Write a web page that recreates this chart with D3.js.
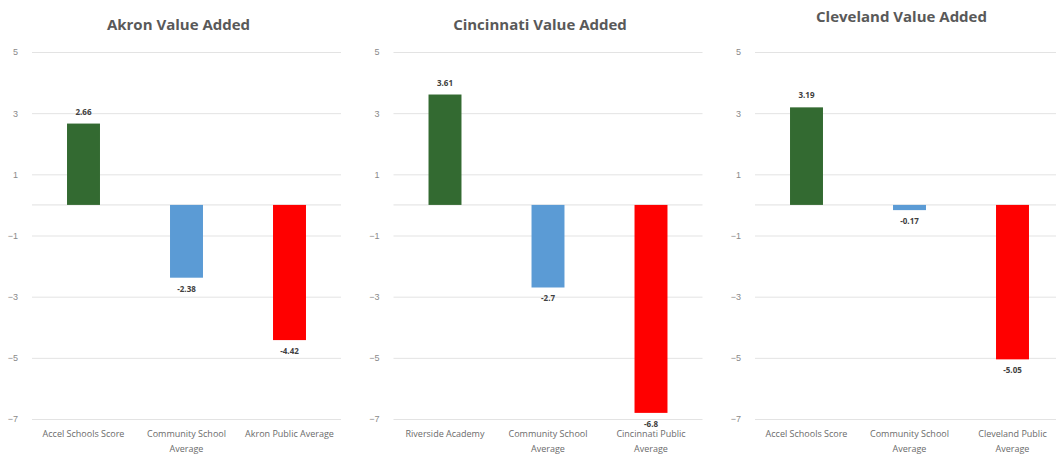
<!DOCTYPE html>
<html lang="en">
  <head>
    <meta charset="utf-8">
    <title>Value Added</title>
    <style>
      body { margin: 0; background: #fff; font-family: "Open Sans", sans-serif; }
      .grid line { stroke: #e3e3e3; }
      .grid text { fill: #8a8a8a; font-size: 9px; }
      .title { fill: #595959; font-size: 15px; font-weight: 700; }
      .cat { fill: #6b6b6b; font-size: 9px; }
      .val { fill: #404040; font-size: 8px; font-weight: 700; }
    </style>
  </head>
  <body>
    <svg id="chart"></svg>
    <script src="https://d3js.org/d3.v7.min.js"></script>
    <script>
      // chart data
      const titles = ["Akron Value Added", "Cincinnati Value Added", "Cleveland Value Added"];
      const akronCategories = ["Accel Schools Score", "Community School Average", "Akron Public Average"];
      const cincinnatiCategories = ["Riverside Academy", "Community School Average", "Cincinnati Public Average"];
      const clevelandCategories = ["Accel Schools Score", "Community School Average", "Cleveland Public Average"];
      const akronValues = [2.66, -2.38, -4.42];
      const cincinnatiValues = [3.61, -2.7, -6.8];
      const clevelandValues = [3.19, -0.17, -5.05];
      const yTicks = [5, 3, 1, -1, -3, -5, -7];
      const barColors = ["#336a31", "#5b9bd5", "#ff0000"];

      const panels = [
        {title: titles[0], cats: akronCategories, vals: akronValues},
        {title: titles[1], cats: cincinnatiCategories, vals: cincinnatiValues},
        {title: titles[2], cats: clevelandCategories, vals: clevelandValues}
      ];

      const W = 1056, H = 454;
      const svg = d3.select("#chart").attr("width", W).attr("height", H);

      const y = d3.scaleLinear().domain([-7, 5]).range([419, 52]);
      const titleY = [30, 30, 22];

      panels.forEach(function(p, i) {
        const left = 32 + i * 361.5;
        const plotW = 309;
        const x = d3.scaleBand().domain(p.cats).range([0, plotW]).paddingInner(0.68).paddingOuter(0.34);
        const g = svg.append("g").attr("transform", "translate(" + left + ",0)");

        g.append("text").attr("class", "title")
          .attr("x", plotW / 2 - 8).attr("y", titleY[i])
          .attr("text-anchor", "middle").text(p.title);

        const grid = g.append("g").attr("class", "grid")
          .call(d3.axisLeft(y).tickValues(yTicks).tickSize(-plotW).tickPadding(14));
        grid.select(".domain").remove();

        g.append("line")
          .attr("x1", 0).attr("x2", plotW)
          .attr("y1", y(0)).attr("y2", y(0))
          .attr("stroke", "#e0e0e0");

        g.selectAll("rect.bar").data(p.vals).enter().append("rect")
          .attr("class", "bar")
          .attr("x", (d, j) => x(p.cats[j]))
          .attr("width", x.bandwidth())
          .attr("y", d => y(Math.max(0, d)))
          .attr("height", d => Math.abs(y(d) - y(0)))
          .attr("fill", (d, j) => barColors[j]);

        g.selectAll("text.val").data(p.vals).enter().append("text")
          .attr("class", "val")
          .attr("x", (d, j) => x(p.cats[j]) + x.bandwidth() / 2)
          .attr("y", d => d >= 0 ? y(d) - 9 : y(d) + 14)
          .attr("text-anchor", "middle")
          .text(d => String(d));

        // category labels, wrapped to the band
        const cat = g.selectAll("text.cat").data(p.cats).enter().append("text")
          .attr("class", "cat")
          .attr("x", d => x(d) + x.bandwidth() / 2)
          .attr("y", 437)
          .attr("text-anchor", "middle");
        cat.each(function(d) {
          const t = d3.select(this);
          const words = d.split(" ");
          let line = [], lines = [];
          const probe = t.append("tspan");
          words.forEach(function(w) {
            line.push(w);
            probe.text(line.join(" "));
            if (probe.node().getComputedTextLength() > 100 && line.length > 1) {
              line.pop();
              lines.push(line.join(" "));
              line = [w];
            }
          });
          lines.push(line.join(" "));
          probe.remove();
          lines.forEach(function(l, k) {
            t.append("tspan").attr("x", x(d) + x.bandwidth() / 2)
              .attr("dy", k === 0 ? 0 : 15).text(l);
          });
        });
      });
    </script>
  </body>
</html>
